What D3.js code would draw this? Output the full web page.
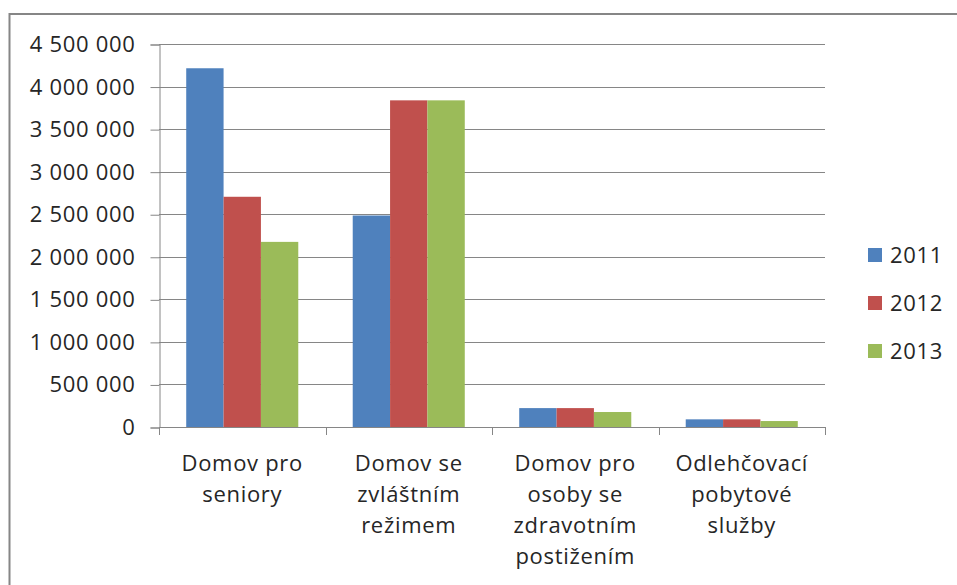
<!DOCTYPE html>
<html>
<head>
<meta charset="utf-8">
<script src="https://cdn.jsdelivr.net/npm/d3@7"></script>
<style>
  body { margin: 0; background: #fff; }
  svg text { font-family: "Open Sans", sans-serif; fill: #262626; letter-spacing: 0.7px; }
</style>
</head>
<body>
<svg id="chart" width="957" height="585"></svg>
<script>
// categories as multi-line labels
var categories = [
    ["Domov pro", "seniory"],
    ["Domov se", "zvláštním", "režimem"],
    ["Domov pro", "osoby se", "zdravotním", "postižením"],
    ["Odlehčovací", "pobytové", "služby"]
];
var years = ["2011", "2012", "2013"];
var values2011 = [4215000, 2485000, 222000, 90000];
var values2012 = [2705000, 3838000, 222000, 90000];
var values2013 = [2175000, 3838000, 176000, 70000];
var yTicks = [0, 500000, 1000000, 1500000, 2000000, 2500000, 3000000, 3500000, 4000000, 4500000];
var colors = ["#4F81BD", "#C0504D", "#9BBB59"];

var series = [values2011, values2012, values2013];

var svg = d3.select("#chart");
// note: "top" is reserved on window, so plot bounds use other names
var plotLeft = 159, plotRight = 825, plotTop = 44, plotBottom = 427;
var gridColor = "#868686";

// outer chart frame (cut off on right / bottom)
svg.append("rect")
    .attr("x", 9.5).attr("y", 14).attr("width", 1000).attr("height", 1000)
    .attr("fill", "none").attr("stroke", gridColor).attr("stroke-width", 2);

var y = d3.scaleLinear().domain([0, 4500000]).range([plotBottom, plotTop]);
var x0 = d3.scaleBand().domain(d3.range(categories.length))
        .range([plotLeft, plotRight]).paddingInner(0.327).paddingOuter(0.1635);
var x1 = d3.scaleBand().domain(d3.range(years.length))
        .range([0, x0.bandwidth()]);

var fmt = function(v) {
    return d3.format(",")(v).replace(/,/g, " ");
};

// gridlines
svg.append("g").selectAll("line").data(yTicks.slice(1)).enter().append("line")
    .attr("x1", plotLeft).attr("x2", plotRight)
    .attr("y1", function(d) { return Math.round(y(d)) + 0.5; })
    .attr("y2", function(d) { return Math.round(y(d)) + 0.5; })
    .attr("stroke", gridColor).attr("stroke-width", 1);

// y axis
var yAxis = d3.axisLeft(y).tickValues(yTicks).tickFormat(fmt).tickSize(9).tickPadding(15);
var gy = svg.append("g").attr("transform", "translate(" + (plotLeft + 0.5) + ",0.5)").call(yAxis);
gy.select(".domain").attr("stroke", gridColor);
gy.selectAll(".tick line").attr("stroke", gridColor);
gy.selectAll(".tick text").attr("font-size", 22).attr("fill", "#262626")
    .style("font-family", "'Open Sans', sans-serif");

// bars
var groups = svg.append("g").selectAll("g").data(categories).enter().append("g")
    .attr("transform", function(d, i) { return "translate(" + x0(i) + ",0)"; });
groups.selectAll("rect").data(function(d, i) {
    return series.map(function(s, j) { return { s: j, v: s[i] }; });
}).enter().append("rect")
    .attr("x", function(d) { return x1(d.s); })
    .attr("width", x1.bandwidth())
    .attr("y", function(d) { return y(d.v); })
    .attr("height", function(d) { return plotBottom - y(d.v); })
    .attr("fill", function(d) { return colors[d.s]; });

// x axis line and ticks
var step = (plotRight - plotLeft) / categories.length;
svg.append("line").attr("x1", plotLeft).attr("x2", plotRight)
    .attr("y1", plotBottom + 0.5).attr("y2", plotBottom + 0.5).attr("stroke", gridColor);
svg.append("g").selectAll("line").data(d3.range(categories.length + 1)).enter().append("line")
    .attr("x1", function(i) { return Math.round(plotLeft + i * step) + 0.5; })
    .attr("x2", function(i) { return Math.round(plotLeft + i * step) + 0.5; })
    .attr("y1", plotBottom).attr("y2", plotBottom + 8)
    .attr("stroke", gridColor);

// category labels
svg.append("g").selectAll("text").data(categories).enter().append("text")
    .attr("text-anchor", "middle").attr("font-size", 22)
    .each(function(lines, i) {
        var t = d3.select(this);
        lines.forEach(function(line, k) {
            t.append("tspan").attr("x", plotLeft + (i + 0.5) * step)
                .attr("y", 471 + k * 31).text(line);
        });
    });

// legend
var legend = svg.append("g").selectAll("g").data(years).enter().append("g")
    .attr("transform", function(d, i) { return "translate(868," + (255 + i * 48) + ")"; });
legend.append("rect").attr("x", 0).attr("y", -7).attr("width", 14).attr("height", 14)
    .attr("fill", function(d, i) { return colors[i]; });
legend.append("text").attr("x", 22).attr("y", 8).attr("font-size", 22).text(function(d) { return d; });
</script>
</body>
</html>
